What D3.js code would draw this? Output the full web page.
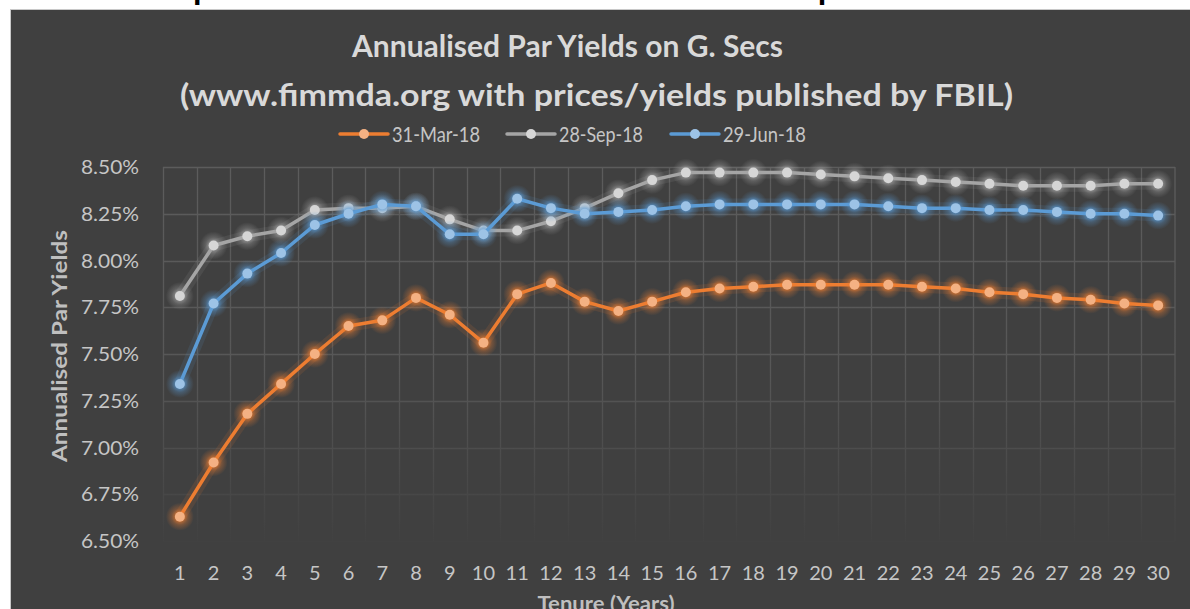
<!DOCTYPE html>
<html>
<head>
<meta charset="utf-8">
<script src="https://cdn.jsdelivr.net/npm/d3@7/dist/d3.min.js"></script>
<style>
  body { margin: 0; background: #fff; overflow: hidden; }
  svg { display: block; }
  text { font-family: Lato, "Open Sans", sans-serif; }
</style>
</head>
<body>
<script>
var width = 1190,
  height = 609

// data
var tenures = [1, 2, 3, 4, 5, 6, 7, 8, 9, 10, 11, 12, 13, 14, 15, 16, 17, 18, 19, 20, 21, 22, 23, 24, 25, 26, 27, 28, 29, 30]
var seriesNames = ['31-Mar-18', '28-Sep-18', '29-Jun-18']
var mar18 = [6.63, 6.92, 7.18, 7.34, 7.50, 7.65, 7.68, 7.80, 7.71, 7.56, 7.82, 7.88, 7.78, 7.73, 7.78, 7.83, 7.85, 7.86, 7.87, 7.87, 7.87, 7.87, 7.86, 7.85, 7.83, 7.82, 7.80, 7.79, 7.77, 7.76]
var sep18 = [7.81, 8.08, 8.13, 8.16, 8.27, 8.28, 8.28, 8.29, 8.22, 8.16, 8.16, 8.21, 8.28, 8.36, 8.43, 8.47, 8.47, 8.47, 8.47, 8.46, 8.45, 8.44, 8.43, 8.42, 8.41, 8.40, 8.40, 8.40, 8.41, 8.41]
var jun18 = [7.34, 7.77, 7.93, 8.04, 8.19, 8.25, 8.30, 8.29, 8.14, 8.14, 8.33, 8.28, 8.25, 8.26, 8.27, 8.29, 8.30, 8.30, 8.30, 8.30, 8.30, 8.29, 8.28, 8.28, 8.27, 8.27, 8.26, 8.25, 8.25, 8.24]
var yTicks = [6.50, 6.75, 7.00, 7.25, 7.50, 7.75, 8.00, 8.25, 8.50]

var lineColors = ['#ED7D31', '#A5A5A5', '#5B9BD5']
var markerColors = ['#F4B183', '#D6D6D6', '#9DC3E6']
var seriesValues = [mar18, sep18, jun18]

var plot = {left: 163, right: 1175, top: 167, bottom: 541}

var svg = d3.select('body').append('svg')
  .attr('width', width)
  .attr('height', height)

var defs = svg.append('defs')

var grad = defs.append('linearGradient')
  .attr('id', 'gridGrad')
  .attr('gradientUnits', 'userSpaceOnUse')
  .attr('x1', 0).attr('x2', 0)
  .attr('y1', plot.top).attr('y2', plot.bottom)
grad.append('stop').attr('offset', 0).attr('stop-color', '#5c5c5c')
grad.append('stop').attr('offset', 0.55).attr('stop-color', '#575757')
grad.append('stop').attr('offset', 1).attr('stop-color', '#414141')

// soft glow around markers
lineColors.forEach(function (c, i) {
  var rg = defs.append('radialGradient').attr('id', 'glow' + i)
  rg.append('stop').attr('offset', 0.35).attr('stop-color', c).attr('stop-opacity', 0.65)
  rg.append('stop').attr('offset', 0.6).attr('stop-color', c).attr('stop-opacity', 0.3)
  rg.append('stop').attr('offset', 1).attr('stop-color', c).attr('stop-opacity', 0)
})

// clipped heading of the surrounding document
var head = svg.append('text')
  .attr('y', -2)
  .style('font-family', '"Liberation Sans", Arial, sans-serif')
  .attr('font-weight', 'bold')
  .attr('font-size', 30)
  .attr('fill', '#000')
  .text('The comparison of G-Sec rates as on March and September 2018:')
var hs = head.text()
var a = head.node().getSubStringLength(0, hs.indexOf('p'))
var b = head.node().getSubStringLength(0, hs.lastIndexOf('p'))
var k = 625 / (b - a)
head.attr('font-size', 30 * k).attr('x', 193 - a * k)

// chart area
svg.append('rect')
  .attr('x', 10.5)
  .attr('y', 9.5)
  .attr('width', width)
  .attr('height', height)
  .attr('fill', '#404040')
  .attr('stroke', '#c8c8c8')
  .attr('stroke-width', 1)

var x = d3.scaleBand()
  .domain(tenures)
  .range([plot.left, plot.right])

var y = d3.scaleLinear()
  .domain([6.5, 8.5])
  .range([plot.bottom, plot.top])

var cx = function (d) { return x(d) + x.bandwidth() / 2 }

// gridlines
var grid = svg.append('g').attr('stroke', 'url(#gridGrad)').attr('stroke-width', 1.3)
grid.selectAll('.hgrid')
  .data(yTicks)
  .enter().append('line')
  .attr('x1', plot.left).attr('x2', plot.right)
  .attr('y1', function (d) { return Math.round(y(d)) + 0.5 })
  .attr('y2', function (d) { return Math.round(y(d)) + 0.5 })
grid.selectAll('.vgrid')
  .data(tenures.concat(['end']))
  .enter().append('line')
  .attr('x1', function (d) { return d === 'end' ? plot.right : Math.round(x(d)) + 0.5 })
  .attr('x2', function (d) { return d === 'end' ? plot.right : Math.round(x(d)) + 0.5 })
  .attr('y1', plot.top).attr('y2', plot.bottom)

function squeeze (sel, w) {
  sel.attr('textLength', w).attr('lengthAdjust', 'spacingAndGlyphs')
  return sel
}

// y axis labels
var fmt = d3.format('.2f')
svg.append('g').selectAll('text')
  .data(yTicks)
  .enter().append('text')
  .attr('x', 139)
  .attr('y', function (d) { return y(d) })
  .attr('dy', '.36em')
  .attr('text-anchor', 'end')
  .attr('font-size', 20)
  .attr('fill', '#c6c6c6')
  .text(function (d) { return fmt(d) + '%' })
  .each(function () { squeeze(d3.select(this), 58) })

// x axis labels
svg.append('g').selectAll('text')
  .data(tenures)
  .enter().append('text')
  .attr('x', cx)
  .attr('y', 580)
  .attr('text-anchor', 'middle')
  .attr('font-size', 20)
  .attr('fill', '#c6c6c6')
  .text(function (d) { return d })

// titles
squeeze(svg.append('text')
  .attr('x', 567.5).attr('y', 57)
  .attr('text-anchor', 'middle')
  .attr('font-weight', 'bold')
  .attr('font-size', 30)
  .attr('fill', '#d9d9d9')
  .text('Annualised Par Yields on G. Secs'), 431)

squeeze(svg.append('text')
  .attr('x', 596.5).attr('y', 106)
  .attr('text-anchor', 'middle')
  .attr('font-weight', 'bold')
  .attr('font-size', 30)
  .attr('fill', '#d9d9d9')
  .text('(www.fimmda.org with prices/yields published by FBIL)'), 833)

squeeze(svg.append('text')
  .attr('transform', 'translate(67,346) rotate(-90)')
  .attr('text-anchor', 'middle')
  .attr('font-weight', 'bold')
  .attr('font-size', 21)
  .attr('fill', '#bfbfbf')
  .text('Annualised Par Yields'), 232)

squeeze(svg.append('text')
  .attr('x', 606).attr('y', 611)
  .attr('text-anchor', 'middle')
  .attr('font-weight', 'bold')
  .attr('font-size', 21)
  .attr('fill', '#bfbfbf')
  .text('Tenure (Years)'), 137)

// legend
var legendX = [340, 507, 671]
var legendW = [88, 84, 83]
var legend = svg.append('g').selectAll('g')
  .data(seriesNames)
  .enter().append('g')
  .attr('transform', function (d, i) { return 'translate(' + legendX[i] + ',134)' })
legend.append('line')
  .attr('x1', 0).attr('x2', 48)
  .attr('stroke', function (d, i) { return lineColors[i] })
  .attr('stroke-width', 3.5)
  .attr('stroke-linecap', 'round')
legend.append('circle')
  .attr('cx', 24)
  .attr('r', 5)
  .attr('fill', function (d, i) { return markerColors[i] })
legend.append('text')
  .attr('x', 52)
  .attr('dy', '.36em')
  .attr('font-size', 21)
  .attr('fill', '#c6c6c6')
  .text(function (d) { return d })
  .each(function (d, i) { squeeze(d3.select(this), legendW[i]) })

// series
var line = d3.line()
  .x(function (d) { return cx(d.t) })
  .y(function (d) { return y(d.v) })

var series = svg.append('g').selectAll('.series')
  .data(seriesValues.map(function (vals, i) {
    return {i: i, points: tenures.map(function (t, j) { return {t: t, v: vals[j], i: i} })}
  }))
  .enter().append('g')
  .attr('class', 'series')

// haze along the line
series.append('path')
  .attr('d', function (d) { return line(d.points) })
  .attr('fill', 'none')
  .attr('stroke', function (d) { return lineColors[d.i] })
  .attr('stroke-opacity', 0.12)
  .attr('stroke-width', 12)
  .attr('stroke-linejoin', 'round')

series.selectAll('.halo')
  .data(function (d) { return d.points })
  .enter().append('circle')
  .attr('class', 'halo')
  .attr('cx', function (d) { return cx(d.t) })
  .attr('cy', function (d) { return y(d.v) })
  .attr('r', 14)
  .attr('fill', function (d) { return 'url(#glow' + d.i + ')' })

series.append('path')
  .attr('d', function (d) { return line(d.points) })
  .attr('fill', 'none')
  .attr('stroke', function (d) { return lineColors[d.i] })
  .attr('stroke-width', 3.5)
  .attr('stroke-linejoin', 'round')

series.selectAll('.dot')
  .data(function (d) { return d.points })
  .enter().append('circle')
  .attr('class', 'dot')
  .attr('cx', function (d) { return cx(d.t) })
  .attr('cy', function (d) { return y(d.v) })
  .attr('r', 5)
  .attr('fill', function (d) { return markerColors[d.i] })
</script>
</body>
</html>
